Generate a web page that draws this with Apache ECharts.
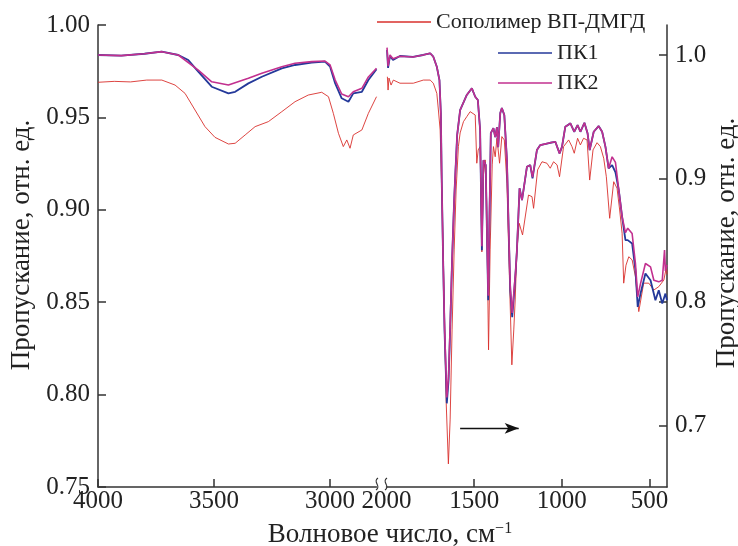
<!DOCTYPE html>
<html>
<head>
<meta charset="utf-8">
<script src="https://cdn.jsdelivr.net/npm/echarts@6/dist/echarts.min.js"></script>
<style>
  html, body { margin: 0; padding: 0; background: #fff; }
  #chart { width: 738px; height: 546px; }
</style>
</head>
<body>
<div id="chart"></div>
<script>
// волновое число, см-1 / пропускание
const copolymerLeft = [
    [4000, 0.969], [3930, 0.9695], [3860, 0.9692], [3790, 0.9702], [3725, 0.9702], [3668, 0.9675],
    [3625, 0.963], [3582, 0.954], [3539, 0.945], [3496, 0.9392], [3438, 0.9356], [3409, 0.936],
    [3366, 0.9405], [3323, 0.945], [3266, 0.9477], [3208, 0.9531], [3151, 0.9585], [3094, 0.9621],
    [3036, 0.9636], [3007, 0.9612], [2986, 0.9522], [2964, 0.9414], [2943, 0.9342], [2928, 0.9378],
    [2914, 0.9333], [2900, 0.9405], [2863, 0.9432], [2835, 0.9522], [2800, 0.9612],
];
const copolymerRight = [
    [1995, 0.972], [1991, 0.9648], [1986, 0.9713], [1974, 0.9675], [1961, 0.9702], [1923, 0.9685],
    [1847, 0.9685], [1790, 0.9702], [1751, 0.9702], [1733, 0.9685], [1713, 0.963], [1704, 0.954],
    [1694, 0.9432], [1683, 0.9053], [1671, 0.8512], [1660, 0.7971], [1647, 0.7625], [1637, 0.7863],
    [1626, 0.835], [1614, 0.8783], [1603, 0.9107], [1590, 0.9342], [1580, 0.9416], [1561, 0.9477],
    [1542, 0.9504], [1523, 0.9531], [1513, 0.954], [1494, 0.9513], [1485, 0.9252], [1477, 0.9324],
    [1466, 0.9342], [1456, 0.8772], [1447, 0.9189], [1437, 0.927], [1429, 0.9053], [1418, 0.8242],
    [1409, 0.8783], [1397, 0.9243], [1390, 0.9342], [1380, 0.9287], [1370, 0.9387], [1355, 0.9252],
    [1342, 0.9396], [1328, 0.9378], [1313, 0.9144], [1300, 0.8675], [1285, 0.8161], [1274, 0.835],
    [1266, 0.8512], [1256, 0.8783], [1243, 0.8927], [1224, 0.8864], [1190, 0.908], [1170, 0.9071],
    [1161, 0.9008], [1138, 0.9216], [1113, 0.926], [1085, 0.9252], [1066, 0.9225], [1047, 0.926],
    [1027, 0.9243], [1013, 0.9179], [990, 0.9342], [961, 0.9378], [942, 0.9342], [929, 0.9306],
    [910, 0.9387], [894, 0.9351], [876, 0.9387], [856, 0.9378], [841, 0.9161], [822, 0.9324],
    [799, 0.9363], [780, 0.9342], [761, 0.9279], [746, 0.9179], [727, 0.8954], [704, 0.9152],
    [685, 0.9117], [670, 0.8999], [656, 0.8873], [647, 0.8603], [634, 0.870], [618, 0.8746],
    [599, 0.8729], [580, 0.8638], [561, 0.8449], [533, 0.8603], [504, 0.8603], [475, 0.8566],
    [447, 0.8584], [418, 0.862], [403, 0.8692], [400, 0.865],
];
const pk1Left = [
    [4000, 1.0], [3900, 0.9995], [3800, 1.001], [3725, 1.0027], [3654, 1.0], [3611, 0.9959],
    [3568, 0.9865], [3510, 0.9743], [3438, 0.9689], [3409, 0.9702], [3352, 0.977], [3294, 0.9824],
    [3208, 0.9892], [3151, 0.9919], [3079, 0.9938], [3022, 0.9946], [3000, 0.9905], [2978, 0.977],
    [2950, 0.9649], [2921, 0.9621], [2900, 0.9689], [2863, 0.9702], [2835, 0.9797], [2800, 0.9884],
];
const pk1Right = [
    [1997, 1.004], [1991, 0.9895], [1980, 0.9992], [1963, 0.9959], [1923, 0.9992], [1849, 0.9984],
    [1791, 1.0], [1751, 1.0014], [1733, 0.9986], [1713, 0.9905], [1698, 0.9797], [1690, 0.953],
    [1685, 0.8986], [1677, 0.8337], [1669, 0.777], [1656, 0.7178], [1646, 0.7364], [1637, 0.777],
    [1626, 0.8337], [1614, 0.8824], [1609, 0.8986], [1597, 0.9351], [1580, 0.9554], [1542, 0.9676],
    [1513, 0.973], [1494, 0.9662], [1479, 0.9635], [1466, 0.9392], [1456, 0.8419], [1447, 0.9148],
    [1434, 0.9108], [1420, 0.8013], [1405, 0.9367], [1390, 0.9408], [1380, 0.9335], [1370, 0.9416],
    [1363, 0.9254], [1351, 0.953], [1342, 0.957], [1328, 0.9513], [1313, 0.9148], [1303, 0.858],
    [1294, 0.8094], [1283, 0.7875], [1271, 0.8094], [1263, 0.8256], [1256, 0.8419], [1241, 0.892],
    [1227, 0.8824], [1199, 0.9094], [1180, 0.9108], [1167, 0.900], [1142, 0.923], [1123, 0.927],
    [1066, 0.9289], [1037, 0.9297], [1013, 0.9203], [999, 0.9256], [980, 0.9419], [951, 0.9446],
    [929, 0.9378], [910, 0.9432], [894, 0.9378], [871, 0.9451], [853, 0.9365], [841, 0.923],
    [818, 0.9378], [790, 0.9424], [770, 0.9378], [751, 0.9256], [733, 0.9081], [713, 0.9108],
    [694, 0.905], [675, 0.8905], [656, 0.8689], [637, 0.85], [624, 0.85], [599, 0.8473],
    [580, 0.8256], [567, 0.7959], [551, 0.8067], [523, 0.823], [494, 0.8175], [466, 0.8013],
    [447, 0.8094], [427, 0.7986], [409, 0.8067], [400, 0.8013],
];
const pk2Left = [
    [4000, 1.0], [3900, 0.9995], [3800, 1.001], [3725, 1.0027], [3654, 1.0], [3568, 0.9878],
    [3510, 0.9783], [3438, 0.9757], [3352, 0.9811], [3294, 0.9852], [3208, 0.9905], [3151, 0.9933],
    [3079, 0.9946], [3022, 0.9951], [3000, 0.9919], [2978, 0.9797], [2950, 0.9684], [2921, 0.9662],
    [2900, 0.9702], [2863, 0.973], [2835, 0.9822], [2800, 0.9892],
];
const pk2Right = [
    [1997, 1.006], [1991, 0.991], [1980, 1.0], [1963, 0.997], [1923, 0.999], [1849, 0.9984],
    [1791, 1.0], [1751, 1.0014], [1733, 0.9986], [1713, 0.9905], [1698, 0.9797], [1690, 0.953],
    [1685, 0.8986], [1677, 0.8337], [1669, 0.78], [1656, 0.7226], [1646, 0.74], [1637, 0.78],
    [1626, 0.8337], [1614, 0.8824], [1609, 0.8986], [1597, 0.9351], [1580, 0.9554], [1542, 0.9676],
    [1513, 0.973], [1494, 0.9662], [1479, 0.9635], [1466, 0.9392], [1456, 0.845], [1447, 0.9148],
    [1434, 0.9108], [1420, 0.805], [1405, 0.9367], [1390, 0.9408], [1380, 0.9335], [1370, 0.9416],
    [1363, 0.9254], [1351, 0.953], [1342, 0.957], [1328, 0.9513], [1313, 0.9148], [1303, 0.858],
    [1294, 0.812], [1283, 0.791], [1271, 0.812], [1263, 0.8256], [1256, 0.8419], [1241, 0.892],
    [1227, 0.8824], [1199, 0.9094], [1180, 0.9108], [1167, 0.901], [1142, 0.923], [1123, 0.927],
    [1066, 0.9289], [1037, 0.9297], [1013, 0.9203], [999, 0.9256], [980, 0.9419], [951, 0.9446],
    [929, 0.9378], [910, 0.9432], [894, 0.9378], [871, 0.9451], [853, 0.9365], [841, 0.923],
    [818, 0.9378], [790, 0.9424], [770, 0.9378], [751, 0.9256], [733, 0.9081], [713, 0.9175],
    [694, 0.913], [675, 0.8905], [656, 0.8689], [637, 0.856], [624, 0.8597], [599, 0.8554],
    [580, 0.8311], [567, 0.804], [551, 0.8148], [523, 0.8311], [494, 0.8283], [475, 0.8175],
    [447, 0.8162], [427, 0.8175], [414, 0.8419], [409, 0.825], [400, 0.83],
];

const leftTicks = [0.75, 0.80, 0.85, 0.90, 0.95, 1.00];
const rightTicks = [0.7, 0.8, 0.9, 1.0];
const xTicksLeft = [3000, 3500, 4000];
const xTicksRight = [500, 1000, 1500];
const xLabelsRight = [500, 1000, 1500, 2000];
const arrowFrom = [1580, 0.6975];
const arrowTo = [1246, 0.6975];

const FONT = 'Liberation Serif';
const AXIS_COLOR = '#333';
const RED = '#d9302c';
const BLUE = '#24399a';
const MAGENTA = '#c2308f';

const chart = echarts.init(document.getElementById('chart'));

const axisLabelStyle = { fontFamily: FONT, fontSize: 25, color: '#222' };
const lineAxis = { show: true, lineStyle: { color: AXIS_COLOR, width: 1.5 } };
const tickStyle = { inside: true, length: 8, lineStyle: { color: AXIS_COLOR, width: 1.5 } };

const legendBase = {
    icon: 'rect',
    itemWidth: 54,
    itemHeight: 1.6,
    textStyle: { fontFamily: FONT, fontSize: 22, color: '#222' },
    selectedMode: false,
};

function breakMark(x) {
    return {
        type: 'bezierCurve',
        shape: { x1: x + 1, y1: 478, x2: x - 1, y2: 490, cpx1: x - 5, cpy1: 482, cpx2: x + 5, cpy2: 486 },
        style: { stroke: AXIS_COLOR, lineWidth: 1.2, fill: null },
    };
}

chart.setOption({
    animation: false,
    backgroundColor: '#fff',
    grid: [
        { left: 98, right: 361.5, top: 25, bottom: 59 },
        { left: 386.5, right: 71, top: 25, bottom: 59 },
    ],
    legend: [
        Object.assign({ data: ['Сополимер ВП-ДМГД'], left: 372, top: 6 }, legendBase),
        Object.assign({ data: ['ПК1'], left: 493, top: 37 }, legendBase),
        Object.assign({ data: ['ПК2'], left: 493, top: 67 }, legendBase),
    ],
    xAxis: [
        {
            gridIndex: 0, type: 'value', inverse: true, min: 2800, max: 4000,
            axisLine: lineAxis,
            axisTick: Object.assign({ customValues: xTicksLeft }, tickStyle),
            axisLabel: Object.assign({ customValues: xTicksLeft, margin: 2, formatter: (v) => String(v) }, axisLabelStyle),
            splitLine: { show: false },
        },
        {
            gridIndex: 1, type: 'value', inverse: true, min: 400, max: 2000,
            axisLine: lineAxis,
            axisTick: Object.assign({ customValues: xTicksRight }, tickStyle),
            axisLabel: Object.assign({ customValues: xLabelsRight, margin: 2, formatter: (v) => String(v) }, axisLabelStyle),
            splitLine: { show: false },
        },
    ],
    yAxis: [
        {
            gridIndex: 0, type: 'value', position: 'left', min: 0.75, max: 1.0,
            axisLine: lineAxis,
            axisTick: Object.assign({ customValues: leftTicks }, tickStyle),
            axisLabel: Object.assign({
                customValues: leftTicks, margin: 8,
                formatter: (v) => v.toFixed(2),
            }, axisLabelStyle),
            splitLine: { show: false },
        },
        { gridIndex: 0, type: 'value', min: 0.65, max: 1.0243, show: false },
        { gridIndex: 1, type: 'value', min: 0.75, max: 1.0, show: false },
        {
            gridIndex: 1, type: 'value', position: 'right', min: 0.65, max: 1.0243,
            axisLine: lineAxis,
            axisTick: Object.assign({ customValues: rightTicks }, tickStyle),
            axisLabel: Object.assign({
                customValues: rightTicks, margin: 8,
                formatter: (v) => v.toFixed(1),
            }, axisLabelStyle),
            splitLine: { show: false },
        },
    ],
    series: [
        {
            name: 'Сополимер ВП-ДМГД', type: 'line', xAxisIndex: 0, yAxisIndex: 0,
            data: copolymerLeft, showSymbol: false, lineStyle: { color: RED, width: 0.9 }, itemStyle: { color: RED },
        },
        {
            name: 'Сополимер ВП-ДМГД', type: 'line', xAxisIndex: 1, yAxisIndex: 2,
            data: copolymerRight, showSymbol: false, lineStyle: { color: RED, width: 0.9 }, itemStyle: { color: RED },
        },
        {
            name: 'ПК1', type: 'line', xAxisIndex: 0, yAxisIndex: 1,
            data: pk1Left, showSymbol: false, lineStyle: { color: BLUE, width: 1.8 }, itemStyle: { color: BLUE },
        },
        {
            name: 'ПК1', type: 'line', xAxisIndex: 1, yAxisIndex: 3,
            data: pk1Right, showSymbol: false, lineStyle: { color: BLUE, width: 1.8 }, itemStyle: { color: BLUE },
            markLine: {
                silent: true,
                symbol: ['none', 'arrow'],
                symbolSize: [8, 14],
                label: { show: false },
                lineStyle: { color: '#111', width: 1.3, type: 'solid' },
                data: [[{ coord: arrowFrom }, { coord: arrowTo }]],
            },
        },
        {
            name: 'ПК2', type: 'line', xAxisIndex: 0, yAxisIndex: 1,
            data: pk2Left, showSymbol: false, lineStyle: { color: MAGENTA, width: 1.6 }, itemStyle: { color: MAGENTA },
        },
        {
            name: 'ПК2', type: 'line', xAxisIndex: 1, yAxisIndex: 3,
            data: pk2Right, showSymbol: false, lineStyle: { color: MAGENTA, width: 1.6 }, itemStyle: { color: MAGENTA },
        },
    ],
    graphic: [
        breakMark(377),
        breakMark(386),
        {
            type: 'text', x: 22, y: 245, rotation: Math.PI / 2,
            style: {
                text: 'Пропускание, отн. ед.', fontFamily: FONT, fontSize: 27, fill: '#222',
                align: 'center', verticalAlign: 'middle',
            },
        },
        {
            type: 'text', x: 727, y: 243, rotation: Math.PI / 2,
            style: {
                text: 'Пропускание, отн. ед.', fontFamily: FONT, fontSize: 27, fill: '#222',
                align: 'center', verticalAlign: 'middle',
            },
        },
        {
            type: 'text', x: 390, y: 535,
            style: {
                text: 'Волновое число, см{sup|−1}', fontFamily: FONT, fontSize: 27, fill: '#222',
                align: 'center', verticalAlign: 'middle',
                rich: { sup: { fontFamily: FONT, fontSize: 16, fill: '#222', verticalAlign: 'top', padding: [0, 0, 12, 0] } },
            },
        },
    ],
});
</script>
</body>
</html>
